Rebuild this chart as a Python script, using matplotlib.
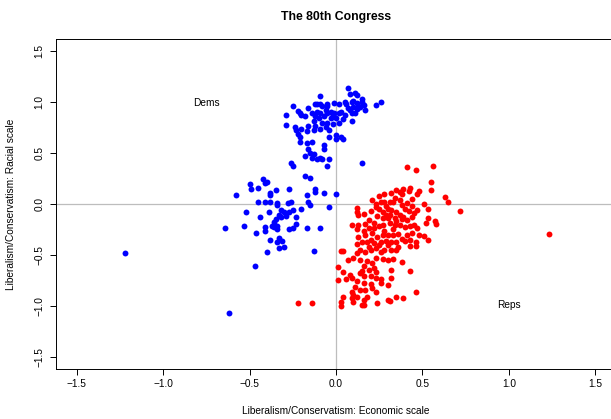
import numpy as np
import matplotlib
matplotlib.use("Agg")
import matplotlib.pyplot as plt

# Ideal points of members, two dimensions (economic, racial)
dem_x = [0.07, 0.08, 0.11, 0.12, -0.09, 0.15, 0.15, -0.25, -0.12, -0.11, -0.09, -0.08,
         -0.05, -0.05, -0.01, 0.02, 0.05, 0.06, 0.09, 0.10, 0.12, 0.13, 0.16, 0.23, 0.26,
         -0.16, -0.22, -0.21, -0.20, -0.18, -0.29, -0.14, -0.11, -0.09, -0.06, -0.05, -0.03,
         -0.01, 0.02, 0.03, 0.08, 0.09, 0.11, 0.14, -0.10, -0.08, -0.05, -0.03, -0.02, 0.00,
         0.04, 0.09, -0.13, -0.16, -0.12, -0.29, -0.24, -0.20, -0.23, -0.17, -0.13, -0.09,
         -0.06, -0.04, -0.22, -0.21, -0.04, 0.00, 0.00, 0.03, 0.04, -0.21, -0.17, -0.14,
         -0.07, -0.07, -0.16, -0.15, -0.13, -0.18, -0.14, -0.11, -0.09, -0.08, -0.04, -0.26,
         -0.25, -0.05, 0.15, -0.42, -0.18, -0.15,
         0.10, 0.07, 0.12, -0.07, -0.02, 0.02, -0.12, 0.17, 0.05,
         -0.50, -0.49, -0.45, -0.41, -0.40, -0.58, -0.38, -0.38, -0.35, -0.27, -0.12, -0.12,
         -0.07, -0.17, -0.45, -0.41, -0.38, -0.34, -0.34, -0.28, -0.26, -0.16, -0.15, -0.04,
         -0.52, -0.39, -0.44, -0.32, -0.30, -0.27, -0.25, -0.20, -0.33, -0.32, -0.35, -0.29,
         -0.23, -0.36, -0.37, -0.36, -0.41, -0.41, -0.34, -0.34, -0.64, -0.53, -0.46, -0.27,
         -0.25, -0.23, -0.17, -0.09, -0.38, -0.33, -0.34, -0.31, -0.33, -0.30, -0.40, -0.13,
         -0.47, -1.22, -0.62, 0.00]
dem_y = [1.14, 1.08, 1.09, 1.07, 1.06, 1.03, 1.00, 0.96, 0.98, 0.98, 0.98, 0.96,
         0.98, 0.96, 0.99, 0.98, 1.00, 0.98, 1.00, 1.01, 0.99, 0.96, 0.97, 0.97, 1.00,
         0.94, 0.91, 0.89, 0.87, 0.86, 0.87, 0.89, 0.90, 0.89, 0.92, 0.89, 0.90,
         0.89, 0.89, 0.90, 0.92, 0.89, 0.89, 0.95, 0.84, 0.80, 0.80, 0.84, 0.79, 0.84,
         0.83, 0.81, 0.81, 0.77, 0.77, 0.78, 0.76, 0.74, 0.73, 0.72, 0.73, 0.74,
         0.76, 0.73, 0.69, 0.66, 0.66, 0.68, 0.64, 0.66, 0.64, 0.61, 0.60, 0.61,
         0.58, 0.54, 0.54, 0.50, 0.49, 0.47, 0.45, 0.44, 0.45, 0.44, 0.44, 0.40,
         0.37, 0.37, 0.40, 0.25, 0.27, 0.26,
         0.95, 0.94, 0.93, 0.86, 0.87, 0.80, 0.86, 0.92, 0.87,
         0.20, 0.15, 0.16, 0.21, 0.22, 0.09, 0.11, 0.09, 0.14, 0.15, 0.15, 0.12,
         0.11, 0.09, 0.02, 0.02, 0.02, 0.01, -0.01, 0.01, 0.02, 0.02, -0.01, -0.03,
         -0.08, -0.08, -0.13, -0.06, -0.08, -0.08, -0.06, -0.05, -0.11, -0.13, -0.15, -0.12,
         -0.13, -0.18, -0.22, -0.23, -0.23, -0.27, -0.25, -0.22, -0.24, -0.22, -0.28, -0.25,
         -0.24, -0.20, -0.24, -0.24, -0.35, -0.33, -0.37, -0.36, -0.43, -0.42, -0.47, -0.46,
         -0.61, -0.48, -1.07, 0.10]

rep_x = [0.41, 0.46, 0.56, 0.55, 0.55, 0.63, 0.65, 0.72, 0.39, 0.37, 0.42, 0.38, 0.32,
         0.21, 0.25, 0.28, 0.26, 0.28, 0.31, 0.33, 0.37, 0.38, 0.41, 0.44, 0.47, 0.51, 0.53,
         0.12, 0.12, 0.13, 0.16, 0.20, 0.23, 0.25, 0.27, 0.30, 0.32, 0.35, 0.37, 0.39, 0.42,
         0.45, 0.19, 0.22, 0.27, 0.29, 0.31, 0.34, 0.38, 0.41, 0.44, 0.53, 0.52, 0.57, 0.58,
         0.09, 0.13, 0.12, 0.16, 0.19, 0.22, 0.25, 0.27, 0.31, 0.34, 0.37, 0.40, 0.43, 0.45,
         0.47, 0.51, 0.53, 0.48, 0.13, 0.17, 0.20, 0.24, 0.27, 0.30, 0.33, 0.36, 0.38, 0.41,
         0.44, 0.46, 0.12, 0.15, 0.18, 0.22, 0.26, 0.29, 0.32, 0.35, 0.40, 0.43,
         0.03, 0.04, 0.07, 0.10, 0.12, 0.14, 0.17, 0.20, 0.23, 0.26, 0.28, 0.32, 0.35, 0.38,
         0.43, 0.46, 0.14, 0.18, 0.21, 0.23, 0.27, 0.30, 0.33, 0.16, 0.15, 0.19, 0.22, 0.23,
         0.01, 0.04, 0.14, 0.16, 0.20, 0.23, 0.26, 0.32, 0.43, 0.32, 0.01, 0.06, 0.08, 0.09,
         0.12, 0.16, 0.20, 0.26, 0.30, 0.11, 0.09, 0.14, 0.17, 0.21, 0.23, 0.18, 0.10, 0.16,
         0.12, 0.04, 0.03, 0.03, 0.09, 0.10, 0.16, 0.15, 0.24, 0.30, 0.31, 0.35, 0.39, 0.46,
         0.24, 0.33, 0.28, 0.21, 0.35, 0.30, 0.25, 0.19, 0.30, 0.36, 0.17, 0.40, 0.23, 0.29,
         0.34, 0.44, 0.47, 0.35, 0.43, 0.48,
         -0.22, -0.14, 1.23]
rep_y = [0.36, 0.33, 0.37, 0.22, 0.14, 0.07, 0.02, -0.07, 0.15, 0.12, 0.13, 0.10, 0.11,
         0.04, 0.08, 0.10, 0.02, 0.02, 0.02, 0.02, 0.04, -0.01, 0.01, -0.02, -0.06, 0.00, -0.05,
         -0.04, -0.08, -0.11, -0.10, -0.07, -0.03, -0.05, -0.08, -0.05, -0.06, -0.08, -0.11,
         -0.13, -0.07, -0.09, -0.16, -0.19, -0.14, -0.11, -0.11, -0.14, -0.15, -0.16, -0.13,
         -0.14, -0.19, -0.17, -0.20, -0.21, -0.21, -0.25, -0.27, -0.24, -0.24, -0.22, -0.21,
         -0.19, -0.21, -0.21, -0.23, -0.22, -0.21, -0.24, -0.31, -0.35, -0.30, -0.32, -0.30,
         -0.35, -0.32, -0.30, -0.30, -0.30, -0.29, -0.34, -0.30, -0.28, -0.37, -0.39, -0.37,
         -0.37, -0.38, -0.37, -0.36, -0.37, -0.37, -0.36, -0.35,
         -0.46, -0.46, -0.55, -0.53, -0.48, -0.45, -0.47, -0.45, -0.43, -0.47, -0.45, -0.45,
         -0.45, -0.57, -0.41, -0.41, -0.55, -0.56, -0.58, -0.53, -0.54, -0.55, -0.54, -0.61,
         -0.66, -0.65, -0.63, -0.67, -0.62, -0.67, -0.68, -0.71, -0.71, -0.73, -0.74, -0.65,
         -0.66, -0.73, -0.75, -0.74, -0.70, -0.73, -0.76, -0.78, -0.79, -0.78, -0.80, -0.81,
         -0.86, -0.84, -0.84, -0.82, -0.86, -0.91, -0.89, -0.94, -0.91, -0.91, -0.96, -1.00,
         -0.92, -0.96, -0.99, -0.99, -0.97, -0.94, -0.95, -0.91, -0.92, -0.86,
         -0.12, -0.25, -0.27, -0.28, -0.17, -0.14, -0.40, -0.42, -0.40, -0.42, -0.20, -0.05,
         0.00, -0.02, 0.06, 0.05, 0.10, 0.14, 0.16, 0.13,
         -0.97, -0.97, -0.29]

ticks = [-1.5, -1.0, -0.5, 0.0, 0.5, 1.0, 1.5]

plt.rcParams['font.family'] = ['Liberation Sans', 'DejaVu Sans']

W, H = 611, 419
fig = plt.figure(figsize=(W / 100, H / 100), dpi=100)
# plot region runs a little past the right edge of the canvas
ax = fig.add_axes([56 / W, (H - 369) / H, 560 / W, 330 / H])

ax.axhline(0, color='#bdbdbd', lw=0.9, zorder=1)
ax.axvline(0, color='#bdbdbd', lw=0.9, zorder=1)

ax.scatter(dem_x, dem_y, s=18, color='#0000ff', linewidths=0, zorder=3)
ax.scatter(rep_x, rep_y, s=18, color='#ff0000', linewidths=0, zorder=3)

ax.text(-0.75, 0.99, 'Dems', ha='center', va='center', fontsize=7.3)
ax.text(1.0, -0.99, 'Reps', ha='center', va='center', fontsize=7.3)

ax.set_xlim(-1.62, 1.62)
ax.set_ylim(-1.62, 1.62)
ax.set_xticks(ticks)
ax.set_yticks(ticks)
ax.set_xticklabels([f'{t:.1f}'.replace('-', '\u2212') for t in ticks])
ax.set_yticklabels([f'{t:.1f}'.replace('-', '\u2212') for t in ticks], rotation=90, va='center')
ax.tick_params(direction='out', length=4.3, width=0.7, labelsize=7.3, pad=3)
ax.tick_params(axis='y', pad=4)

for sp in ax.spines.values():
    sp.set_linewidth(0.7)
    sp.set_color('black')

ax.set_title('The 80th Congress', fontsize=8.8, fontweight='bold', pad=14)
ax.set_xlabel('Liberalism/Conservatism: Economic scale', fontsize=7.3, labelpad=12)
ax.set_ylabel('Liberalism/Conservatism: Racial scale', fontsize=7.3, labelpad=13)

fig.savefig('out.png', dpi=100)
